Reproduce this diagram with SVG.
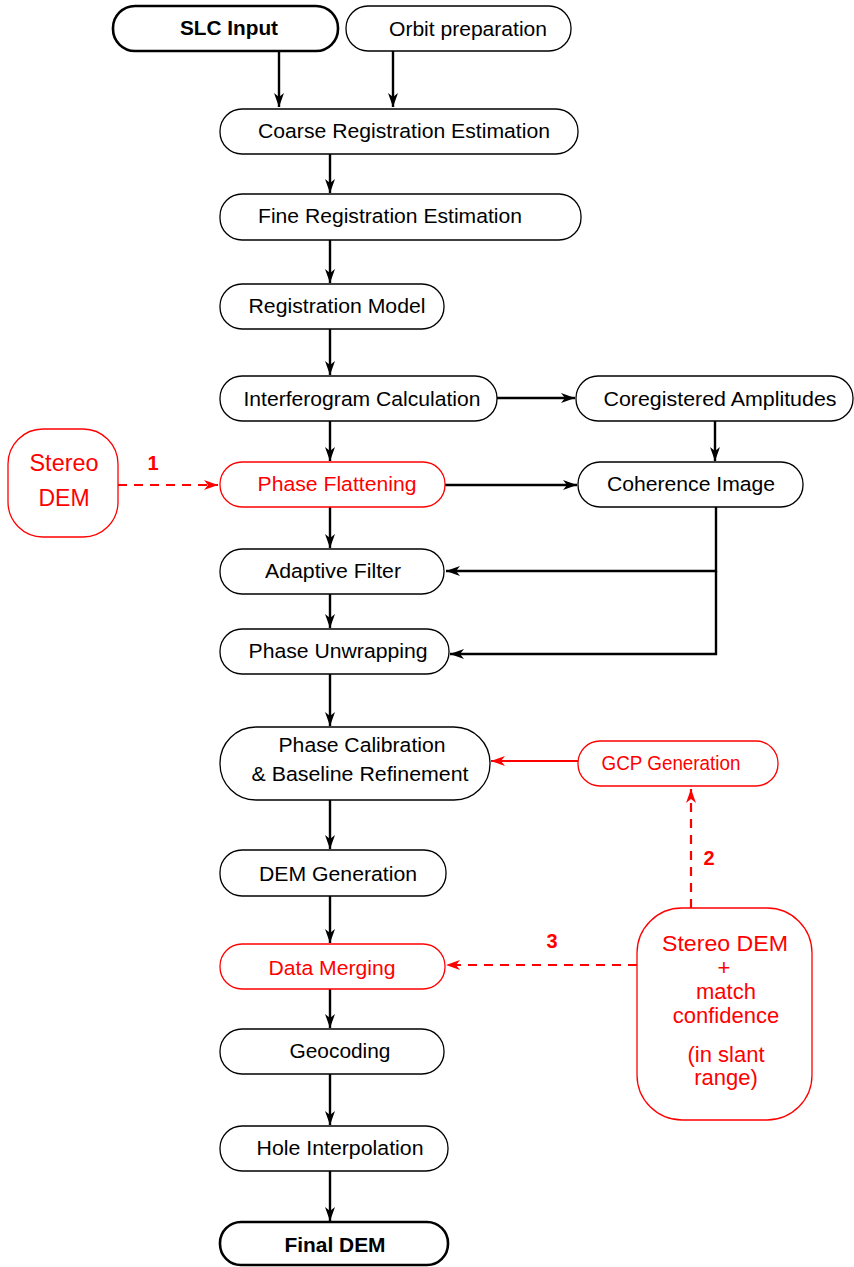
<svg xmlns="http://www.w3.org/2000/svg" width="854" height="1267" viewBox="0 0 854 1267">
<style>
.n{fill:#fff;stroke:#000;stroke-width:1.3}
.nb{fill:#fff;stroke:#000;stroke-width:2.6}
.nr{fill:#fff;stroke:#f00;stroke-width:1.3}
text{font-family:"Liberation Sans",Arial,sans-serif;font-size:20.5px;text-anchor:middle}
.b{font-weight:bold}
.r{fill:#f00}
.c{fill:none;stroke:#000;stroke-width:2.4}
.cr{fill:none;stroke:#f00;stroke-width:2.2}
.cd{fill:none;stroke:#f00;stroke-width:2.2;stroke-dasharray:9,7}
</style>
<defs>
<marker id="ak" markerUnits="userSpaceOnUse" markerWidth="16" markerHeight="12" refX="14" refY="5" orient="auto"><path d="M0,0 L14,5 L0,10 L4,5 z" fill="#000"/></marker>
<marker id="ar" markerUnits="userSpaceOnUse" markerWidth="16" markerHeight="12" refX="14" refY="5" orient="auto"><path d="M0,0 L14,5 L0,10 L4,5 z" fill="#f00"/></marker>
</defs>
<g id="connectors">
<path class="c" d="M279,51 V107" marker-end="url(#ak)"/>
<path class="c" d="M393,51 V107" marker-end="url(#ak)"/>
<path class="c" d="M330,154 V193" marker-end="url(#ak)"/>
<path class="c" d="M330,240 V283" marker-end="url(#ak)"/>
<path class="c" d="M330,329 V375" marker-end="url(#ak)"/>
<path class="c" d="M497,398 H575" marker-end="url(#ak)"/>
<path class="c" d="M715,421 V461" marker-end="url(#ak)"/>
<path class="c" d="M330,421 V461" marker-end="url(#ak)"/>
<path class="c" d="M445,485 H577" marker-end="url(#ak)"/>
<path class="c" d="M330,507 V548" marker-end="url(#ak)"/>
<path class="c" d="M716,507 V571 H446" marker-end="url(#ak)"/>
<path class="c" d="M716,571 V654 H450" marker-end="url(#ak)"/>
<path class="c" d="M330,594 V628" marker-end="url(#ak)"/>
<path class="c" d="M330,674 V726" marker-end="url(#ak)"/>
<path class="c" d="M330,800 V849" marker-end="url(#ak)"/>
<path class="c" d="M330,896 V943" marker-end="url(#ak)"/>
<path class="c" d="M330,989 V1028" marker-end="url(#ak)"/>
<path class="c" d="M330,1074 V1125" marker-end="url(#ak)"/>
<path class="c" d="M330,1171 V1221" marker-end="url(#ak)"/>
<path class="cd" d="M118,485 H218" marker-end="url(#ar)"/>
<path class="cr" d="M578,761 H491" marker-end="url(#ar)"/>
<path class="cd" d="M691,908 V789" marker-end="url(#ar)"/>
<path class="cd" d="M637,965 H446" marker-end="url(#ar)"/>
<text class="b r" x="153" y="470" style="font-size:20px">1</text>
<text class="b r" x="709" y="865" style="font-size:20px">2</text>
<text class="b r" x="552" y="948" style="font-size:20px">3</text>
</g>
<g id="slc"><rect class="nb" x="113" y="6" width="225" height="45" rx="22"/><text class="b" x="229" y="35" textLength="98" lengthAdjust="spacingAndGlyphs">SLC Input</text></g>
<g id="orbit"><rect class="n" x="346" y="6" width="225" height="45" rx="22"/><text x="468" y="36" textLength="158" lengthAdjust="spacingAndGlyphs">Orbit preparation</text></g>
<g id="coarse"><rect class="n" x="220" y="109" width="358" height="45" rx="22"/><text x="404" y="138" textLength="292" lengthAdjust="spacingAndGlyphs">Coarse Registration Estimation</text></g>
<g id="fine"><rect class="n" x="220" y="194" width="361" height="46" rx="22"/><text x="390" y="223" textLength="264" lengthAdjust="spacingAndGlyphs">Fine Registration Estimation</text></g>
<g id="regmodel"><rect class="n" x="220" y="284" width="224" height="45" rx="22"/><text x="337" y="313" textLength="177" lengthAdjust="spacingAndGlyphs">Registration Model</text></g>
<g id="interf"><rect class="n" x="220" y="376" width="277" height="45" rx="22"/><text x="362" y="406" textLength="237" lengthAdjust="spacingAndGlyphs">Interferogram Calculation</text></g>
<g id="coreg"><rect class="n" x="576" y="376" width="277" height="45" rx="22"/><text x="720" y="406" textLength="233" lengthAdjust="spacingAndGlyphs">Coregistered Amplitudes</text></g>
<g id="flatten"><rect class="nr" x="220" y="462" width="225" height="45" rx="22"/><text class="r" x="337" y="491" textLength="159" lengthAdjust="spacingAndGlyphs">Phase Flattening</text></g>
<g id="coherence"><rect class="n" x="578" y="462" width="225" height="45" rx="22"/><text x="691" y="491" textLength="168" lengthAdjust="spacingAndGlyphs">Coherence Image</text></g>
<g id="stereo1"><rect class="nr" x="8" y="429" width="110" height="108" rx="35"/><text class="r" x="64" y="471" style="font-size:23px" textLength="69" lengthAdjust="spacingAndGlyphs">Stereo</text><text class="r" x="64" y="506" style="font-size:23px">DEM</text></g>
<g id="adaptive"><rect class="n" x="220" y="549" width="224" height="45" rx="22"/><text x="333" y="578" textLength="136" lengthAdjust="spacingAndGlyphs">Adaptive Filter</text></g>
<g id="unwrap"><rect class="n" x="220" y="629" width="229" height="45" rx="22"/><text x="338" y="658" textLength="179" lengthAdjust="spacingAndGlyphs">Phase Unwrapping</text></g>
<g id="calib"><rect class="n" x="220" y="727" width="270" height="73" rx="36"/><text x="362" y="752" textLength="167" lengthAdjust="spacingAndGlyphs">Phase Calibration</text><text x="360" y="781" textLength="217" lengthAdjust="spacingAndGlyphs">&amp; Baseline Refinement</text></g>
<g id="gcp"><rect class="nr" x="578" y="741" width="200" height="45" rx="22"/><text class="r" x="671" y="770" textLength="139" lengthAdjust="spacingAndGlyphs">GCP Generation</text></g>
<g id="demgen"><rect class="n" x="220" y="850" width="226" height="46" rx="22"/><text x="338" y="881" textLength="158" lengthAdjust="spacingAndGlyphs">DEM Generation</text></g>
<g id="merge"><rect class="nr" x="220" y="944" width="225" height="45" rx="22"/><text class="r" x="332" y="975" textLength="127" lengthAdjust="spacingAndGlyphs">Data Merging</text></g>
<g id="stereo2"><rect class="nr" x="637" y="908" width="175" height="212" rx="45"/>
<text class="r" x="725" y="951" style="font-size:22px" textLength="126" lengthAdjust="spacingAndGlyphs">Stereo DEM</text><text class="r" x="724" y="975" style="font-size:22px">+</text><text class="r" x="726" y="999" style="font-size:22px">match</text><text class="r" x="726" y="1023" style="font-size:22px">confidence</text><text class="r" x="726" y="1062" style="font-size:22px">(in slant</text><text class="r" x="726" y="1085" style="font-size:22px">range)</text></g>
<g id="geocode"><rect class="n" x="220" y="1029" width="224" height="45" rx="22"/><text x="340" y="1058" textLength="101" lengthAdjust="spacingAndGlyphs">Geocoding</text></g>
<g id="hole"><rect class="n" x="220" y="1126" width="228" height="45" rx="22"/><text x="340" y="1155" textLength="167" lengthAdjust="spacingAndGlyphs">Hole Interpolation</text></g>
<g id="final"><rect class="nb" x="220" y="1222" width="228" height="43" rx="21"/><text class="b" x="335" y="1252" textLength="101" lengthAdjust="spacingAndGlyphs">Final DEM</text></g>
</svg>
